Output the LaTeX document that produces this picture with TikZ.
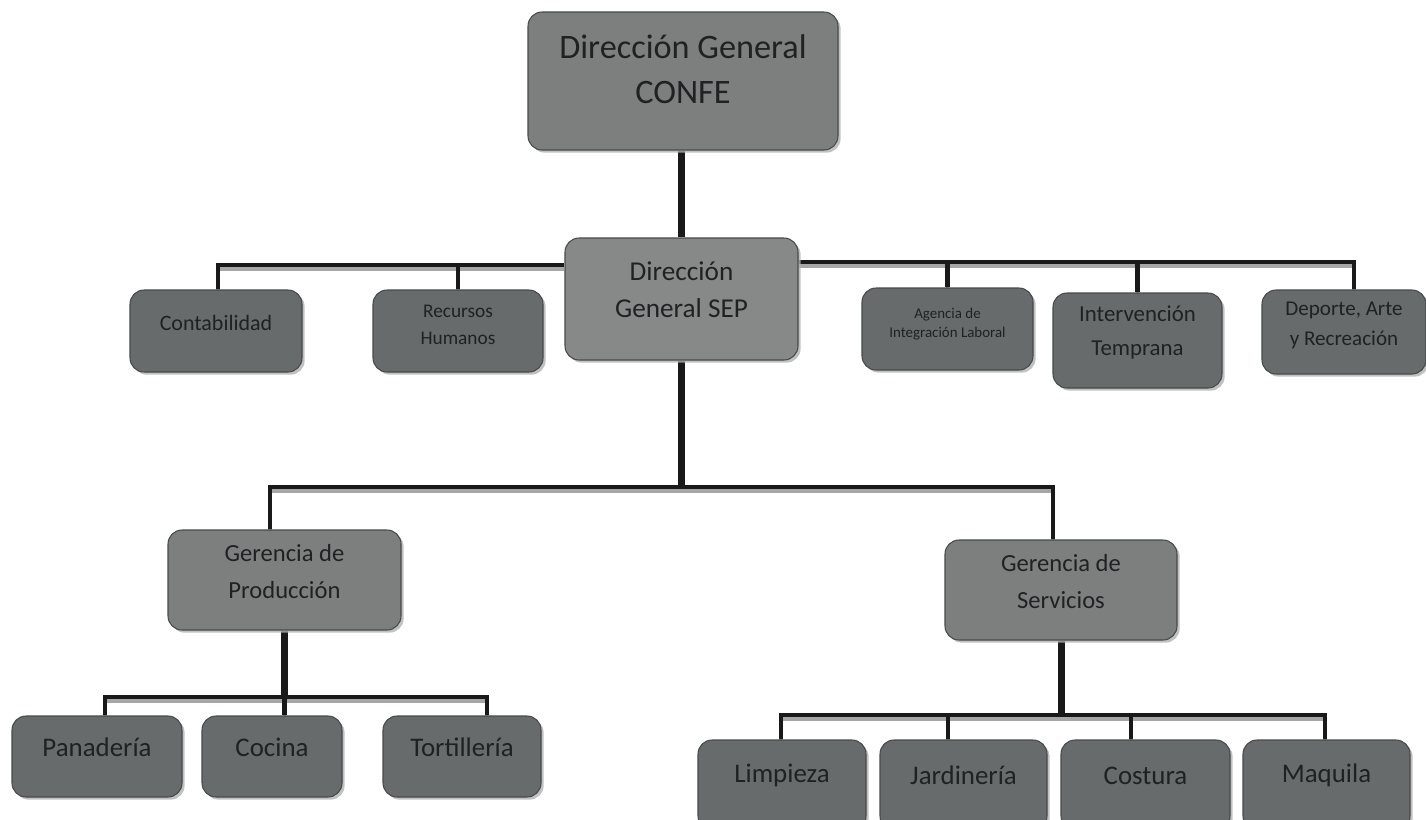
\documentclass[tikz,border=0pt]{standalone}
\usepackage{fontspec}
\setmainfont{Carlito}
\usetikzlibrary{fit,shadows,backgrounds}
\definecolor{boxdark}{HTML}{686B6B}
\definecolor{boxlight}{HTML}{7C7F7E}
\definecolor{boxsep}{HTML}{868988}
\definecolor{boxedge}{HTML}{474A4A}
\definecolor{txt}{HTML}{1E2222}
\tikzset{
  orgbox/.style={draw=boxedge, line width=0.6pt, rounded corners=8pt, fill=boxdark,
    inner sep=0pt, align=center, text=txt,
    drop shadow={shadow xshift=1.5pt, shadow yshift=-1.5pt, fill=black!30, opacity=0.8}},
  lightbox/.style={orgbox, fill=boxlight},
  sepbox/.style={orgbox, fill=boxsep},
  lowtext/.style={text height=0.45em, text depth=0pt},
  link/.style={line width=2.6pt, draw=black!90,
    preaction={draw=black!35, line width=2.2pt, transform canvas={yshift=-2.2pt}}},
  vlink/.style={line width=4pt, draw=black!90},
}
\begin{document}
\begin{tikzpicture}[x=0.02cm, y=-0.02cm]
\useasboundingbox (0,0) rectangle (1426,819);
% top
\node[lightbox, fit={(528,12) (838,150)}, font=\fontsize{19.5}{26}\selectfont] (top) {Dirección General\\CONFE};
\node[sepbox, fit={(565,238) (798,360)}, font=\fontsize{15.5}{21}\selectfont] (sep) {Dirección\\General SEP};
% second row
\node[orgbox, fit={(130,290) (302,372)}, font=\fontsize{12.5}{15}\selectfont] (cont) {Contabilidad};
\node[orgbox, fit={(373,290) (543,372)}, font=\fontsize{11}{15}\selectfont] (rec) {Recursos\\Humanos};
\node[orgbox, fit={(862,288) (1033,370)}, font=\fontsize{8.5}{11}\selectfont] (agen) {Agencia de\\Integración Laboral};
\node[orgbox, fit={(1053,293) (1222,388)}, font=\fontsize{13}{19}\selectfont] (int) {Intervención\\Temprana};
\node[orgbox, fit={(1262,290) (1426,374)}, font=\fontsize{12}{17}\selectfont] (dep) {Deporte, Arte\\y Recreación};
% gerencias
\node[lightbox, fit={(168,530) (401,630)}, font=\fontsize{14}{21}\selectfont] (gp) {Gerencia de\\Producción};
\node[lightbox, fit={(945,540) (1177,640)}, font=\fontsize{14}{21}\selectfont] (gs) {Gerencia de\\Servicios};
% bottom left
\node[orgbox, lowtext, fit={(12,716) (182,797)}, font=\fontsize{15.3}{17}\selectfont] (pan) {Panadería};
\node[orgbox, lowtext, fit={(202,716) (342,797)}, font=\fontsize{15.3}{17}\selectfont] (coc) {Cocina};
\node[orgbox, lowtext, fit={(383,716) (541,797)}, font=\fontsize{15.3}{17}\selectfont] (tor) {Tortillería};
% bottom right
\node[orgbox, fit={(698,740) (866,830)}, font=\fontsize{15.3}{17}\selectfont] (lim) {Limpieza};
\node[orgbox, fit={(880,740) (1047,830)}, font=\fontsize{15.3}{17}\selectfont] (jar) {Jardinería};
\node[orgbox, fit={(1061,740) (1230,830)}, font=\fontsize{15.3}{17}\selectfont] (cos) {Costura};
\node[orgbox, fit={(1243,740) (1410,830)}, font=\fontsize{15.3}{17}\selectfont] (maq) {Maquila};
% junction coordinates
\coordinate (lb) at (218,265);
\coordinate (rb) at (1354,262);
\coordinate (mbl) at (270,487);
\coordinate (mbr) at (1053,487);
\coordinate (pbl) at (105,697);
\coordinate (pbr) at (487,697);
\coordinate (sbl) at (781,715);
\coordinate (sbr) at (1325,715);
\coordinate (sj) at (948,715);
\coordinate (sc) at (1131,715);
% connectors
\begin{scope}[on background layer]
\draw[vlink] (top.south -| sep.north) -- (sep.north);
\draw[link] (lb |- cont.north) -- (lb) -- (lb -| sep.west);
\draw[link] (rec.north) -- (rec.north |- lb);
\draw[link] (sep.east |- rb) -- (rb) -- (rb |- dep.north);
\draw[link] (agen.north) -- (agen.north |- rb);
\draw[link] (int.north) -- (int.north |- rb);
\draw[vlink] (sep.south) -- (sep.south |- mbl);
\draw[link] (mbl |- gp.north) -- (mbl) -- (mbr) -- (mbr |- gs.north);
\draw[vlink] (gp.south) -- (gp.south |- pbl);
\draw[link] (pbl |- pan.north) -- (pbl) -- (pbr) -- (pbr |- tor.north);
\draw[link] (gp.south |- pbl) -- (gp.south |- coc.north);
\draw[vlink] (gs.south) -- (gs.south |- sbl);
\draw[link] (sbl |- lim.north) -- (sbl) -- (sbr) -- (sbr |- maq.north);
\draw[link] (sj) -- (sj |- jar.north);
\draw[link] (sc) -- (sc |- cos.north);
\end{scope}
\end{tikzpicture}
\end{document}
